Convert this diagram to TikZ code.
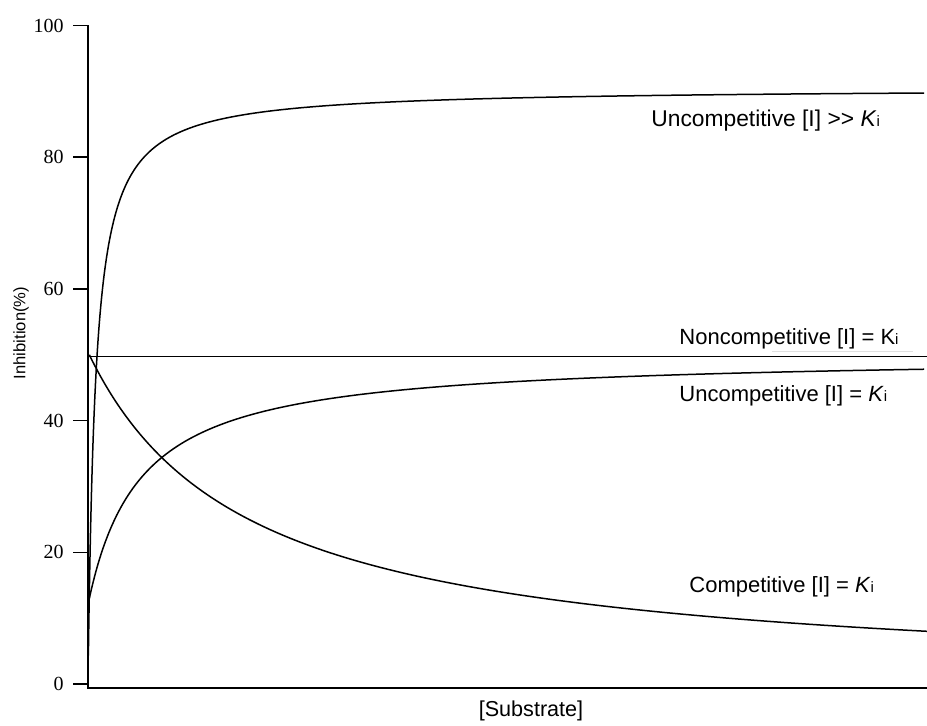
\documentclass[tikz,border=0pt]{standalone}
\usepackage{fontspec}
\setmainfont{Liberation Serif}
\newfontfamily\lblfont{Liberation Sans}
\begin{document}
\begin{tikzpicture}[x=0.5pt,y=-0.5pt,
  curve/.style={line width=0.75pt, black},
  axisline/.style={line width=0.8pt, black},
  ticklbl/.style={anchor=east, inner sep=0pt, font=\fontsize{10}{12}\selectfont},
  curvelbl/.style={anchor=base west, inner sep=0pt, font=\lblfont\fontsize{11}{13}\selectfont}]
\useasboundingbox (0,0) rectangle (927,726);
% axes
\coordinate (ytop) at (88,25.5);
\coordinate (orig) at (88,688);
\coordinate (xend) at (927,688);
\draw[axisline] (ytop) -- (orig) -- (xend);
% ticks
\foreach \v in {0,20,40,60,80,100}{
  \coordinate (t\v) at (73,{684-6.585*\v});
  \coordinate (a\v) at (88,{684-6.585*\v});
  \draw[line width=0.75pt] (t\v) -- (a\v);
  \node[ticklbl] (lab\v) at (64,{684-6.585*\v}) {\v};
}
% axis labels
\node[inner sep=0pt, rotate=90, font=\lblfont\fontsize{8.3}{10}\selectfont] (ylab) at (21,333) {Inhibition(\%)};
\node[anchor=base, inner sep=0pt, font=\lblfont\fontsize{10.8}{12}\selectfont] (xlab) at (531,717) {[Substrate]};
% noncompetitive
\coordinate (nc0) at (89.3,356.5);
\coordinate (nc1) at (927,356.5);
\draw[curve] (nc0) -- (nc1);
\coordinate (fg0) at (772,351.7);
\coordinate (fg1) at (913,351.7);
\draw[black!12, line width=0.4pt] (fg0) -- (fg1);
% competitive [I]=Ki
\draw[curve] plot[domain=89.3:927, samples=300] (\x,{684-658.5/(2+(\x-89.3)/79.8)});
% uncompetitive [I]=Ki
\draw[curve] plot[variable=\u, domain=0:4.233, samples=300]
  ({75.6+78.2*(0.158*exp(\u))},{684-658.5*((0.158*exp(\u))/(1+0.316*exp(\u)))});
% uncompetitive [I]>>Ki
\draw[curve] plot[variable=\u, domain=0:7.73, samples=400]
  ({88+73.7*(0.005*exp(\u))},{684-662.5*((0.045*exp(\u))/(1+0.05*exp(\u)))});
% curve labels
\node[curvelbl, font=\lblfont\fontsize{11.4}{13}\selectfont] (lUH) at (651,126.7) {Uncompetitive [I] >> \textit{K}{\fontsize{7.5}{8}\selectfont i}};
\node[curvelbl] (lNC) at (679,345) {Noncompetitive [I] = K{\fontsize{7.5}{8}\selectfont i}};
\node[curvelbl] (lUK) at (679,401.7) {Uncompetitive [I] = \textit{K}{\fontsize{7.5}{8}\selectfont i}};
\node[curvelbl] (lC) at (689,593) {Competitive [I] = \textit{K}{\fontsize{7.5}{8}\selectfont i}};
\end{tikzpicture}
\end{document}
